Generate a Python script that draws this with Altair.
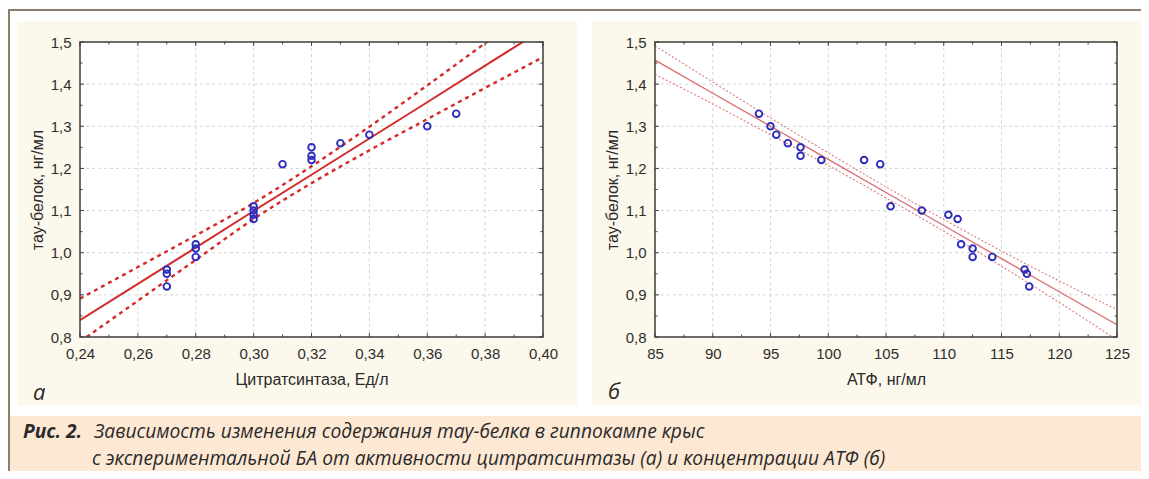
import altair as alt
import pandas as pd

# ---------------- data ----------------
# panel а: citrate synthase (U/l) vs tau protein (ng/ml)
cs_x = [0.27, 0.27, 0.27, 0.28, 0.28, 0.28, 0.30, 0.30, 0.30, 0.30,
        0.31, 0.32, 0.32, 0.32, 0.33, 0.34, 0.36, 0.37]
cs_tau = [0.96, 0.95, 0.92, 1.02, 1.01, 0.99, 1.11, 1.10, 1.09, 1.08,
          1.21, 1.25, 1.23, 1.22, 1.26, 1.28, 1.30, 1.33]

# regression line and 95% band of panel а (read at these x)
fit_a_x = [0.24, 0.26, 0.28, 0.30, 0.32, 0.34, 0.36, 0.38, 0.40]
fit_a = [0.840, 0.926, 1.012, 1.099, 1.185, 1.271, 1.357, 1.444, 1.530]
upper_a = [0.891, 0.966, 1.041, 1.118, 1.205, 1.299, 1.397, 1.497, 1.596]
lower_a = [0.789, 0.886, 0.983, 1.080, 1.165, 1.243, 1.317, 1.391, 1.464]

# panel б: ATP (ng/ml) vs tau protein (ng/ml)
atp_x = [94.0, 95.0, 95.5, 96.5, 97.6, 97.6, 99.4, 103.1, 104.5, 105.4,
         108.1, 110.4, 111.2, 111.5, 112.5, 112.5, 114.2, 117.0, 117.2, 117.4]
atp_tau = [1.33, 1.30, 1.28, 1.26, 1.25, 1.23, 1.22, 1.22, 1.21, 1.11,
           1.10, 1.09, 1.08, 1.02, 1.01, 0.99, 0.99, 0.96, 0.95, 0.92]

fit_b_x = [85, 90, 95, 100, 105, 110, 115, 120, 125]
fit_b = [1.457, 1.3785, 1.300, 1.2215, 1.143, 1.0645, 0.986, 0.9075, 0.829]
upper_b = [1.491, 1.405, 1.320, 1.237, 1.156, 1.079, 1.004, 0.933, 0.865]
lower_b = [1.423, 1.353, 1.280, 1.207, 1.130, 1.051, 0.968, 0.882, 0.793]

# ticks
x_ticks_a = [0.24, 0.26, 0.28, 0.30, 0.32, 0.34, 0.36, 0.38, 0.40]
x_minor_a = [0.25, 0.27, 0.29, 0.31, 0.33, 0.35, 0.37, 0.39]
x_ticks_b = [85, 90, 95, 100, 105, 110, 115, 120, 125]
x_minor_b = [87.5, 92.5, 97.5, 102.5, 107.5, 112.5, 117.5, 122.5]
y_ticks = [0.8, 0.9, 1.0, 1.1, 1.2, 1.3, 1.4, 1.5]
y_minor = [0.85, 0.95, 1.05, 1.15, 1.25, 1.35, 1.45]

caption_bold = "Рис. 2."
caption_1 = "Зависимость изменения содержания тау-белка в гиппокампе крыс"
caption_2 = "с экспериментальной БА от активности цитратсинтазы (а) и концентрации АТФ (б)"

# ---------------- layout constants ----------------
W, H = 1061, 295
LA0, LA1 = 0, 463        # panel а plot range (px)
RB0, RB1 = 575, 1037     # panel б plot range (px)
BOTTOM = 429             # last pixel row of the chart

XA = alt.Scale(domain=[0.24, 0.40], range=[LA0, LA1], nice=False, zero=False)
XB = alt.Scale(domain=[85, 125], range=[RB0, RB1], nice=False, zero=False)
YS = alt.Scale(domain=[0.8, 1.5], range=[H, 0], nice=False, zero=False)

FONT = "Liberation Sans, Arial, sans-serif"
CAP_FONT = "Open Sans"
CREAM = "#fdf8ec"
PEACH = "#fde8d4"
FRAME = "#8a7d6b"

one = pd.DataFrame({"k": [0]})
df_a = pd.DataFrame({"x": cs_x, "tau": cs_tau})
df_b = pd.DataFrame({"x": atp_x, "tau": atp_tau})
fa = pd.DataFrame({"x": fit_a_x, "fit": fit_a, "up": upper_a, "lo": lower_a})
fb = pd.DataFrame({"x": fit_b_x, "fit": fit_b, "up": upper_b, "lo": lower_b})


def px_rect(x, x2, y, y2, **kw):
    return alt.Chart(one).mark_rect(**kw).encode(
        x=alt.value(x), x2=alt.value(x2), y=alt.value(y), y2=alt.value(y2))


def ax(field, scale):
    return alt.X(field, type="quantitative", scale=scale, axis=None)


def ay(field):
    return alt.Y(field, type="quantitative", scale=YS, axis=None)


layers = []
# background decoration
layers.append(px_rect(-72, -70, -33, BOTTOM, color=FRAME))
layers.append(px_rect(-72, W, -33, -31, color=FRAME))
layers.append(px_rect(-63, 497, -21, 363, color=CREAM))
layers.append(px_rect(512, W, -21, 363, color=CREAM))
layers.append(px_rect(-70, W, 374, BOTTOM, color=PEACH))
layers.append(px_rect(LA0, LA1, 0, H, color="white"))
layers.append(px_rect(RB0, RB1, 0, H, color="white"))

GRID = dict(color="#d4d4d4", strokeDash=[3, 3], strokeWidth=1)

# grid lines
for vals, scale, x0, x1 in [(x_ticks_a[1:-1], XA, LA0, LA1), (x_ticks_b[1:-1], XB, RB0, RB1)]:
    layers.append(alt.Chart(pd.DataFrame({"v": vals})).mark_rule(**GRID).encode(
        x=ax("v", scale), y=alt.value(0), y2=alt.value(H)))
    layers.append(alt.Chart(pd.DataFrame({"v": y_ticks[1:-1]})).mark_rule(**GRID).encode(
        y=ay("v"), x=alt.value(x0), x2=alt.value(x1)))

# panel а: band, fit, points
BAND_A = dict(color="#d42a2a", strokeWidth=2.4, strokeDash=[4, 4], clip=True)
layers.append(alt.Chart(fa).mark_line(**BAND_A, interpolate="monotone").encode(x=ax("x", XA), y=ay("up")))
layers.append(alt.Chart(fa).mark_line(**BAND_A, interpolate="monotone").encode(x=ax("x", XA), y=ay("lo")))
layers.append(alt.Chart(fa).mark_line(color="#d42a2a", strokeWidth=2, clip=True).encode(x=ax("x", XA), y=ay("fit")))

# panel б
BAND_B = dict(color="#e07a7a", strokeWidth=1.1, strokeDash=[2, 2], clip=True)
layers.append(alt.Chart(fb).mark_line(**BAND_B, interpolate="monotone").encode(x=ax("x", XB), y=ay("up")))
layers.append(alt.Chart(fb).mark_line(**BAND_B, interpolate="monotone").encode(x=ax("x", XB), y=ay("lo")))
layers.append(alt.Chart(fb).mark_line(color="#d86a6a", strokeWidth=1.3, clip=True).encode(x=ax("x", XB), y=ay("fit")))

PT = dict(shape="circle", filled=False, size=44, strokeWidth=1.9, color="#2b2bbd", opacity=1)

axis_common = dict(grid=False, domain=False, ticks=False, zindex=1,
                   labelFont=FONT, labelFontSize=15, labelColor="#2e2e2e",
                   titleFont=FONT, titleFontSize=16, titleColor="#2a2a2a",
                   titleFontWeight="normal", labelFlush=False, labelOverlap=False)

Y_TITLE = dict(titleX=-35, titleY=H / 2, titleAngle=270, titleAlign="center",
               titleBaseline="bottom")

layers.append(alt.Chart(df_a).mark_point(**PT).encode(
    x=alt.X("x:Q", scale=XA, axis=alt.Axis(
        orient="bottom", values=x_ticks_a, title="Цитратсинтаза, Ед/л",
        labelExpr="replace(format(datum.value, '.2f'), '.', ',')",
        labelPadding=9, titlePadding=10, **axis_common)),
    y=alt.Y("tau:Q", scale=YS, axis=alt.Axis(
        orient="left", values=y_ticks, title="тау-белок, нг/мл",
        labelExpr="replace(format(datum.value, '.1f'), '.', ',')",
        labelPadding=9, **Y_TITLE, **axis_common))))

layers.append(alt.Chart(df_b).mark_point(**PT).encode(
    x=alt.X("x:Q", scale=XB, axis=alt.Axis(
        orient="bottom", values=x_ticks_b, title="АТФ, нг/мл", format="d",
        labelPadding=9, titlePadding=10, **axis_common)),
    y=alt.Y("tau:Q", scale=YS, axis=alt.Axis(
        orient="left", values=y_ticks, title="тау-белок, нг/мл", offset=-RB0,
        labelExpr="replace(format(datum.value, '.1f'), '.', ',')",
        labelPadding=9, **Y_TITLE, **axis_common))))

# inward ticks + plot frames
TICK = dict(color="#444444", strokeWidth=1)
for xt, xm, scale, x0, x1 in [(x_ticks_a, x_minor_a, XA, LA0, LA1), (x_ticks_b, x_minor_b, XB, RB0, RB1)]:
    for vals, ln in [(xt, 4), (xm, 2.5)]:
        d = pd.DataFrame({"v": vals})
        layers.append(alt.Chart(d).mark_rule(**TICK).encode(x=ax("v", scale), y=alt.value(H), y2=alt.value(H - ln)))
        layers.append(alt.Chart(d).mark_rule(**TICK).encode(x=ax("v", scale), y=alt.value(0), y2=alt.value(ln)))
    for vals, ln in [(y_ticks, 4), (y_minor, 2.5)]:
        d = pd.DataFrame({"v": vals})
        layers.append(alt.Chart(d).mark_rule(**TICK).encode(y=ay("v"), x=alt.value(x0), x2=alt.value(x0 + ln)))
        layers.append(alt.Chart(d).mark_rule(**TICK).encode(y=ay("v"), x=alt.value(x1), x2=alt.value(x1 - ln)))
    layers.append(px_rect(x0, x1, 0, H, fillOpacity=0, stroke="#3c3c3c", strokeWidth=1.5))


def txt(s, x, y, size, weight="normal", style="italic", font=CAP_FONT, color="#2a2a2a"):
    return alt.Chart(one).mark_text(align="left", baseline="alphabetic", font=font, fontSize=size,
                                    fontStyle=style, fontWeight=weight, color=color).encode(
        x=alt.value(x), y=alt.value(y), text=alt.value(s))


CAP_SIZE = 19.2
layers.append(txt("а", -47, 358, 22))
layers.append(txt("б", 528, 357, 22))
layers.append(txt(caption_bold, -57, 396, CAP_SIZE, weight="bold"))
layers.append(txt(caption_1, 14, 396, CAP_SIZE))
layers.append(txt(caption_2, 12, 423, CAP_SIZE))

chart = alt.layer(*layers).resolve_scale(x="independent", y="independent").properties(
    width=W, height=H,
    padding={"left": 72, "top": 34, "right": 0, "bottom": BOTTOM - H},
    autosize=alt.AutoSizeParams(type="none"),
    background="white",
).configure_view(strokeWidth=0)

chart.save("out.html", embed_options={"renderer": "svg", "actions": False})
